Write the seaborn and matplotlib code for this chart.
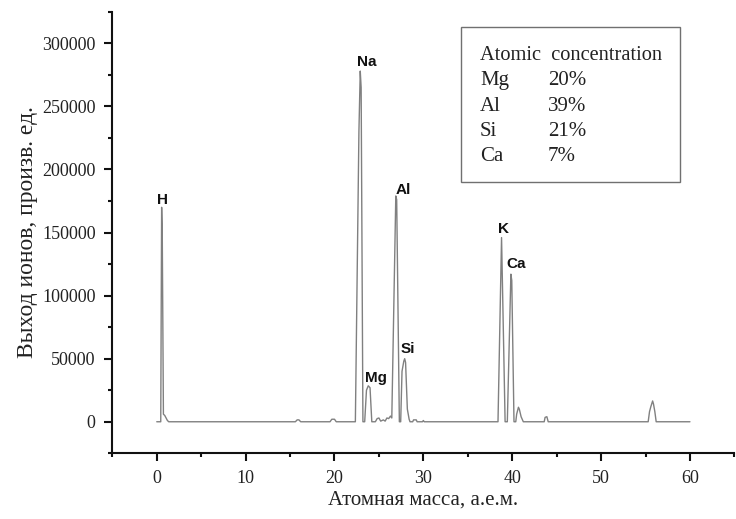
import numpy as np
import pandas as pd
import matplotlib
matplotlib.use('Agg')
import matplotlib.pyplot as plt
import matplotlib.ticker as ticker
from matplotlib.patches import Rectangle
import seaborn as sns

# spectrum (mass, yield)
mass = [0.0, 0.45, 0.55, 0.62, 0.75, 0.9, 1.05, 1.2, 1.35,
        15.6, 15.8, 16.0, 16.2,
        19.5, 19.7, 20.0, 20.2,
        22.35, 22.75, 22.9, 23.0, 23.2,
        23.4, 23.6, 23.8, 24.0, 24.2,
        24.6, 24.8, 25.0, 25.2, 25.5, 25.7, 25.9, 26.1, 26.3, 26.45,
        26.9, 27.0, 27.3,
        27.45, 27.6, 27.8, 27.9, 28.0, 28.2, 28.4, 28.5,
        28.8, 28.9, 29.2, 29.3, 29.9, 30.0, 30.1,
        38.4, 38.8, 39.2,
        39.45, 39.85, 39.95, 40.2,
        40.4, 40.5, 40.7, 40.8, 41.0, 41.25,
        43.6, 43.7, 43.9, 44.05,
        55.3, 55.45, 55.6, 55.8, 55.9, 56.05, 56.2,
        60.0]
yield_ = [0, 0, 170000, 150000, 6000, 5000, 3000, 1000, 0,
          0, 1500, 1500, 0,
          0, 2000, 2000, 0,
          0, 230000, 278000, 265000, 0,
          0, 25000, 28500, 27000, 0,
          0, 2500, 3000, 500, 1500, 500, 3000, 2500, 4500, 3000,
          179000, 176000, 0,
          0, 40000, 48000, 50000, 47000, 10000, 2000, 0,
          0, 1500, 1500, 0, 0, 1000, 0,
          0, 146000, 0,
          0, 117000, 112000, 0,
          0, 6000, 11500, 10000, 4000, 0,
          0, 3500, 4000, 0,
          0, 8000, 12000, 16500, 14000, 8000, 0,
          0]

peak_names = ['H', 'Na', 'Mg', 'Al', 'Si', 'K', 'Ca']
peak_x = [0.67, 23.6, 24.7, 27.75, 28.3, 39.0, 40.4]
peak_y = [176000, 285000, 34400, 184000, 57400, 152500, 125000]

conc_elements = ['Mg', 'Al', 'Si', 'Ca']
conc_values = ['20%', '39%', '21%', '7%']

df = pd.DataFrame({'mass': mass, 'yield': yield_})

sns.set_theme(style='ticks')
plt.rcParams['font.family'] = ['Liberation Serif', 'DejaVu Serif']

fig = plt.figure(figsize=(7.36, 5.19), dpi=100)
ax = fig.add_axes([0.1526, 0.1266, 0.8452, 0.8507])

sns.lineplot(data=df, x='mass', y='yield', ax=ax, color='#808080',
             linewidth=1.0, estimator=None, sort=False)

ax.set_xlim(-5, 65)
ax.set_ylim(-25000, 325000)
ax.xaxis.set_major_locator(ticker.MultipleLocator(10))
ax.xaxis.set_minor_locator(ticker.MultipleLocator(5))
ax.yaxis.set_major_locator(ticker.MultipleLocator(50000))
ax.yaxis.set_minor_locator(ticker.MultipleLocator(25000))
ax.yaxis.set_major_formatter(ticker.FuncFormatter(lambda v, p: f'{int(v)}'))

for s in ['top', 'right']:
    ax.spines[s].set_visible(False)
for s in ['left', 'bottom']:
    ax.spines[s].set_linewidth(1.5)
    ax.spines[s].set_color('#111111')

ax.tick_params(which='major', direction='out', length=6, width=1.5,
               labelsize=13, pad=6, color='#111111', labelcolor='#222222')
ax.tick_params(which='minor', direction='out', length=3, width=1.5, color='#111111')

ax.set_xlabel('Атомная масса, а.е.м.', fontsize=15, color='#222222')
ax.set_ylabel('Выход ионов, произв. ед.', fontsize=17, color='#222222')
ax.xaxis.set_label_coords(0.5, -0.085)
ax.yaxis.set_label_coords(-0.12, 0.5)

for name, px, py in zip(peak_names, peak_x, peak_y):
    ax.text(px, py, name, ha='center', va='center', fontsize=11,
            fontweight='bold', family=['Liberation Sans', 'DejaVu Sans'],
            color='#111111')

# concentration box
ax.add_patch(Rectangle((0.5605, 0.6145), 0.3521, 0.3511, transform=ax.transAxes,
                       fill=False, edgecolor='#707070', linewidth=1.0))
ax.text(0.591, 0.8908, 'Atomic  concentration', transform=ax.transAxes,
        fontsize=14.7, va='baseline', ha='left', color='#222222')
row_y = [0.8342, 0.776, 0.7194, 0.6627]
for el, val, ry in zip(conc_elements, conc_values, row_y):
    ax.text(0.591, ry, el, transform=ax.transAxes, fontsize=15,
            va='baseline', ha='left', color='#222222')
    ax.text(0.700, ry, val, transform=ax.transAxes, fontsize=15,
            va='baseline', ha='left', color='#222222')

fig.savefig('out.png', dpi=100)
